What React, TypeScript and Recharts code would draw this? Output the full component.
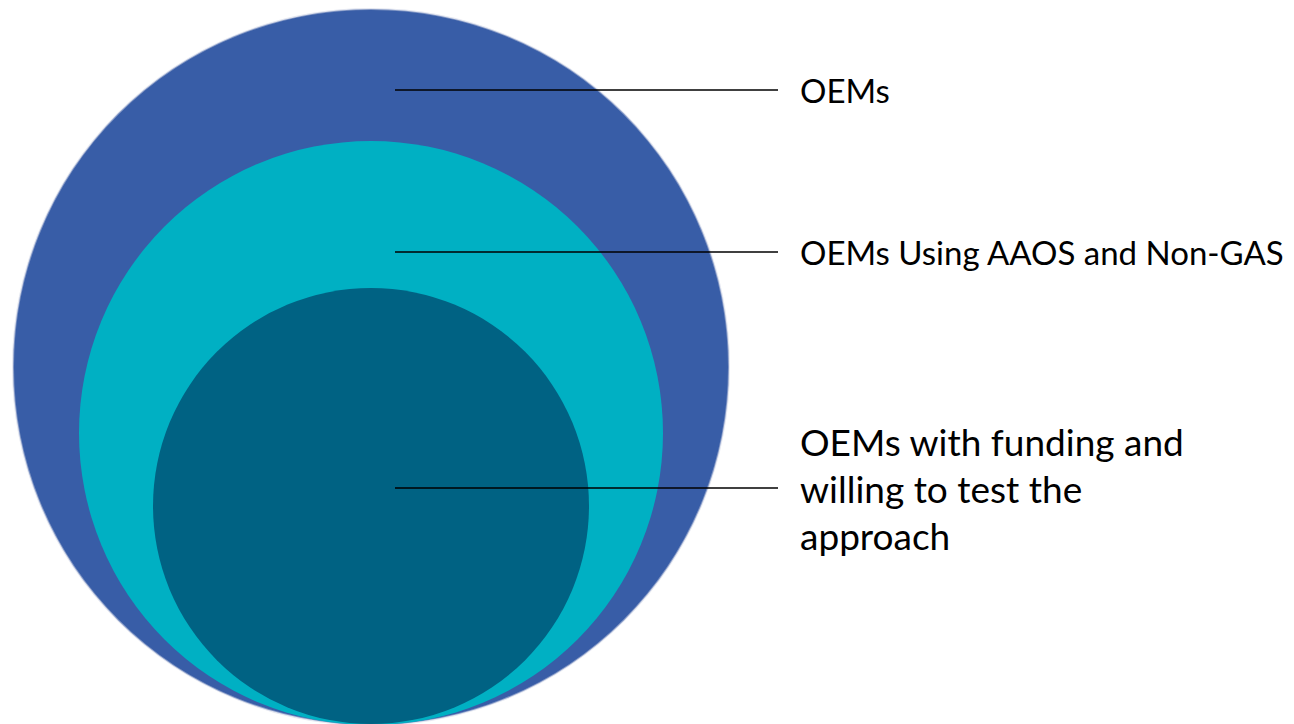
import React from "react";
import { ScatterChart, Scatter, XAxis, YAxis } from "recharts";

// Nested circles (chart units = px, y measured up from the bottom of the plot)
const circleNames = ["OEMs", "OEMs Using AAOS and Non-GAS", "OEMs with funding and willing to test the approach"];
const circleCenterX = [363, 363, 363];
const circleCenterY = [357, 291, 218];
const circleRadius = [358, 292, 218];
const circleColors = ["#385DA7", "#00B0C3", "#006283"];

// Callouts
const calloutY = [634, 472, 236];
const calloutStartX = [387, 387, 387];
const calloutEndX = [770, 770, 770];
const calloutLines = [["OEMs"], ["OEMs Using AAOS and Non-GAS"], ["OEMs with funding and", "willing to test the", "approach"]];
const calloutFontSize = [33, 33, 37];

const W = 1286;
const H = 716;
const UNIT = 1; // px per chart unit on both axes (domain spans equal plot size)
const FONT = "Lato, 'Open Sans', sans-serif";
const LINE_H = 47;

const circleData = circleNames.map((name, i) => ({
  name,
  x: circleCenterX[i],
  y: circleCenterY[i],
  r: circleRadius[i],
  fill: circleColors[i],
}));

const calloutData = calloutY.map((y, i) => ({
  x: calloutStartX[i],
  y,
  endX: calloutEndX[i],
  lines: calloutLines[i],
  fontSize: calloutFontSize[i],
}));

const CircleShape = (props: any) => {
  const { cx, cy, payload } = props;
  const outer = payload.name === "OEMs";
  return (
    <circle
      cx={cx}
      cy={cy}
      r={payload.r * UNIT}
      fill={payload.fill}
      stroke={outer ? "rgba(200,205,225,0.5)" : "none"}
      strokeWidth={outer ? 2 : 0}
    />
  );
};

const CalloutShape = (props: any) => {
  const { cx, cy, payload } = props;
  const x2 = cx + (payload.endX - payload.x) * UNIT;
  const lines: string[] = payload.lines;
  const startY = cy - ((lines.length - 1) * LINE_H) / 2;
  return (
    <g>
      <line x1={cx} y1={cy} x2={x2} y2={cy} stroke="#000" strokeWidth={1.5} />
      <text fontFamily={FONT} fontSize={payload.fontSize} fill="#000">
        {lines.map((l, i) => (
          <tspan key={i} x={x2 + 22} y={startY + i * LINE_H} dominantBaseline="central">
            {l}
          </tspan>
        ))}
      </text>
    </g>
  );
};

export default function App() {
  return (
    <div style={{ width: W, height: H }}>
      <ScatterChart width={W} height={H} margin={{ top: 0, right: 0, bottom: 0, left: 0 }}>
        <XAxis type="number" dataKey="x" domain={[0, W]} hide />
        <YAxis type="number" dataKey="y" domain={[0, H]} hide />
        <Scatter data={circleData} shape={<CircleShape />} isAnimationActive={false} />
        <Scatter data={calloutData} shape={<CalloutShape />} isAnimationActive={false} />
      </ScatterChart>
    </div>
  );
}
